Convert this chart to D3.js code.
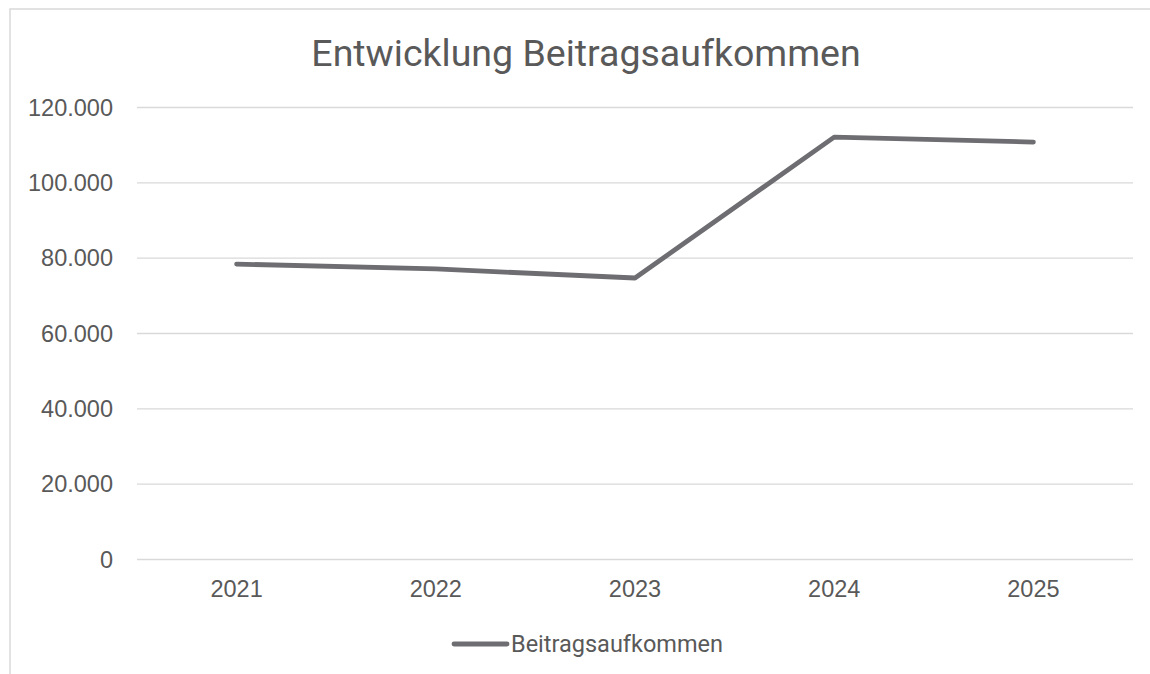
<!DOCTYPE html>
<html><head><meta charset="utf-8">
<script src="https://cdn.jsdelivr.net/npm/d3@7"></script>
<style>html,body{margin:0;padding:0;background:#fff;}svg{display:block;font-family:Roboto,"Noto Sans",sans-serif;}</style>
</head><body>
<svg id="c" width="1150" height="674"></svg>
<script>
const categories = ["2021","2022","2023","2024","2025"];
const values = [78300, 77000, 74600, 112000, 110700];
const yTicks = [0, 20000, 40000, 60000, 80000, 100000, 120000];
const seriesName = "Beitragsaufkommen";
const title = "Entwicklung Beitragsaufkommen";

(function(){
const svg = d3.select("#c");
const textColor = "#595959";
svg.append("rect").attr("x",10).attr("y",9).attr("width",1160).attr("height",700)
  .attr("fill","#fff").attr("stroke","#d9d9d9").attr("stroke-width",1.5);

const pLeft = 137, pRight = 1133, pTop = 107, pBottom = 559;
const x = d3.scaleBand().domain(categories).range([pLeft, pRight]);
const y = d3.scaleLinear().domain([0,120000]).range([pBottom, pTop]);
const fmt = v => d3.format(",")(v).replace(/,/g,".");

svg.append("text").attr("x",586).attr("y",66).attr("text-anchor","middle")
  .attr("font-size",37.5).attr("fill",textColor).text(title);

const yAxis = svg.append("g").attr("transform",`translate(${pLeft},0)`)
  .call(d3.axisLeft(y).tickValues(yTicks).tickSize(-(pRight-pLeft)).tickPadding(24).tickFormat(fmt));
yAxis.select(".domain").remove();
yAxis.selectAll("line").attr("stroke","#d9d9d9").attr("stroke-width",1.3);
yAxis.selectAll("text").attr("font-size",23.5).attr("fill",textColor).attr("dy","0.35em");

const xAxis = svg.append("g").attr("transform",`translate(0,${pBottom})`)
  .call(d3.axisBottom(x).tickSize(0).tickPadding(0));
xAxis.select(".domain").remove();
xAxis.selectAll("text").attr("font-size",23.5).attr("fill",textColor).attr("y",38).attr("dy",0);

const line = d3.line().x((d,i)=>x(categories[i])+x.bandwidth()/2).y(d=>y(d));
svg.append("path").datum(values).attr("d",line).attr("fill","none")
  .attr("stroke","#6e6e72").attr("stroke-width",4.8).attr("stroke-linecap","round").attr("stroke-linejoin","round");

svg.append("line").attr("x1",454).attr("x2",507).attr("y1",644).attr("y2",644)
  .attr("stroke","#6e6e72").attr("stroke-width",4.8).attr("stroke-linecap","round");
svg.append("text").attr("x",511).attr("y",652).attr("font-size",23.5).attr("fill",textColor).text(seriesName);
})();
</script>
</body></html>
